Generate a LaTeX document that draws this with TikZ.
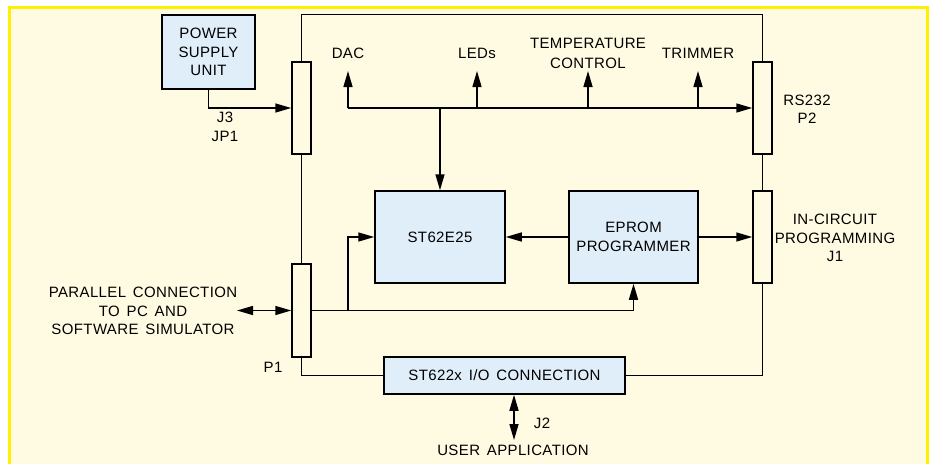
\documentclass[tikz,border=0pt]{standalone}
\usepackage{fontspec}
\setmainfont[LetterSpace=2.5,WordSpace=1.5]{Liberation Sans}
\usetikzlibrary{arrows.meta}
\definecolor{cream}{RGB}{255,251,226}
\definecolor{bord}{RGB}{255,240,0}
\definecolor{boxblue}{RGB}{224,238,250}
\begin{document}
\begin{tikzpicture}[x=1pt,y=-1pt,line width=1.5pt,
  >={Triangle[length=16pt,width=9pt]},
  txt/.style={font=\fontsize{15}{18.5}\selectfont},
  blk/.style={draw,fill=boxblue,inner sep=0pt,align=center,txt},
  conn/.style={draw,fill=cream,minimum width=19pt,minimum height=92pt,inner sep=0pt},
  lbl/.style={align=center,inner sep=0pt,txt}]
\useasboundingbox (0,0) rectangle (934,463);
\fill[white] (0,0) rectangle (934,463);
\fill[cream] (9,7.5) rectangle (927,480);
\draw[bord,line width=3pt] (9,7.5) rectangle (927,480);

% blocks
\node[blk,minimum width=93pt,minimum height=74pt] (psu) at (208.5,52) {POWER\\SUPPLY\\UNIT};
\node[blk,minimum width=130pt,minimum height=92pt] (st62) at (440,237) {ST62E25};
\node[blk,minimum width=129pt,minimum height=92pt] (eprom) at (633.5,237) {EPROM\\PROGRAMMER};
\node[blk,minimum width=241pt,minimum height=37pt] (io) at (504.5,375.5) {ST622x I/O CONNECTION};

% connectors (plugs)
\node[conn] (jp1) at (301.5,108) {};
\node[conn,minimum height=93pt] (p1) at (301.5,310.5) {};
\node[conn] (p2) at (762.5,108) {};
\node[conn] (j1) at (762.5,237) {};

% labels
\node[lbl] (dac) at (348,53) {DAC};
\node[lbl] (leds) at (477,53) {LEDs};
\node[lbl] (temp) at (588,53) {TEMPERATURE\\[1.5pt]CONTROL};
\node[lbl] (trim) at (698,53) {TRIMMER};
\node[lbl] (rslbl) at (807,109.5) {RS232\\P2};
\node[lbl] (iclbl) at (835,238) {IN-CIRCUIT\\PROGRAMMING\\J1};
\node[lbl] (parlbl) at (143,311) {PARALLEL CONNECTION\\TO PC AND\\SOFTWARE SIMULATOR};
\node[lbl] (p1lbl) at (273,367) {P1};
\node[lbl] (j3lbl) at (225,127) {J3\\JP1};
\node[lbl] (j2lbl) at (542,423) {J2};
\node[lbl] (user) at (513,450) {USER APPLICATION};

% coordinates
\coordinate (busL) at (348,108);
\coordinate (dacT) at (348,71);
\coordinate (ledT) at (477,71);
\coordinate (tempT) at (588,71);
\coordinate (trimT) at (698,71);
\coordinate (parT) at (237,310.5);
\coordinate (j2T) at (514,440);

% frame wiring
\draw (jp1.north) -- (jp1.north |- psu.north) -| (p2.north);
\draw (jp1.south) -- (p1.north);
\draw (p2.south) -- (j1.north);
\draw (p1.south) |- (io.west);
\draw (j1.south) |- (io.east);

% power
\draw[->] (psu.south) |- (jp1.west);

% bus
\draw[->] (busL) -- (p2.west);
\draw[->] (busL) -- (dacT);
\draw[->] (ledT |- busL) -- (ledT);
\draw[->] (tempT |- busL) -- (tempT);
\draw[->] (trimT |- busL) -- (trimT);
\draw[->] (st62.north |- busL) -- (st62.north);

% programmer
\draw[->] (eprom.west) -- (st62.east);
\draw[->] (eprom.east) -- (j1.west);
\draw[->] (p1.east) -| (eprom.south);
\draw[->] (busL |- p1.east) |- (st62.west);

% external
\draw[<->] (parT) -- (p1.west);
\draw[<->] (j2T |- io.south) -- (j2T);
\end{tikzpicture}
\end{document}
